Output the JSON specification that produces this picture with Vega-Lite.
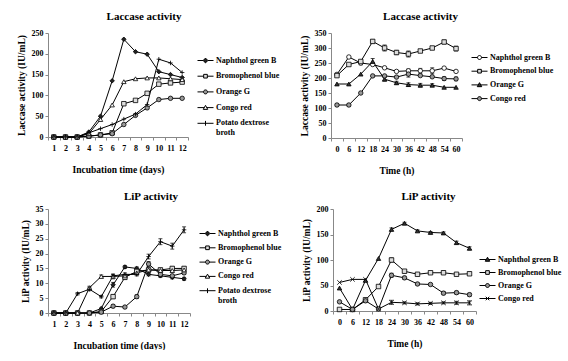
{
  "$schema": "https://vega.github.io/schema/vega-lite/v6.json",
  "background": "white",
  "padding": {"left": 16, "top": 11, "right": 0, "bottom": 0},
  "config": {
    "view": {"stroke": null},
    "font": "Liberation Serif",
    "axis": {"labelFont": "Liberation Serif", "labelFontSize": 8, "labelFontWeight": "bold", "labelColor": "black", "titleFont": "Liberation Serif", "titleFontSize": 9.5, "titleFontWeight": "bold", "titleColor": "black", "domainColor": "#888", "tickColor": "#888", "tickSize": 3, "grid": false, "labelPadding": 2, "titlePadding": 4},
    "axisX": {"labelAngle": 0, "tickBand": "extent", "labelPadding": 4, "titlePadding": 12},
    "axisY": {"titlePadding": 5},
    "title": {"font": "Liberation Serif", "fontSize": 11, "fontWeight": "bold", "color": "black", "anchor": "middle", "frame": "bounds", "offset": 7},
    "legend": {"labelFont": "Liberation Serif", "labelFontSize": 8, "labelFontWeight": "bold", "labelColor": "black", "symbolSize": 256, "symbolStrokeWidth": 1, "symbolStrokeColor": "black", "labelOffset": 2, "rowPadding": 2, "orient": "none"}
  },
  "spacing": 16,
  "vconcat": [
    {
      "spacing": 19,
      "hconcat": [
        {
          "width": 140, "height": 104,
          "title": {"text": "Laccase activity", "dx": -4},
          "data": {"values": [
            {"day":1,"series":"Naphthol green B","value":0},{"day":2,"series":"Naphthol green B","value":0},{"day":3,"series":"Naphthol green B","value":0},{"day":4,"series":"Naphthol green B","value":12},{"day":5,"series":"Naphthol green B","value":50},{"day":6,"series":"Naphthol green B","value":135},{"day":7,"series":"Naphthol green B","value":235},{"day":8,"series":"Naphthol green B","value":205},{"day":9,"series":"Naphthol green B","value":199},{"day":10,"series":"Naphthol green B","value":157},{"day":11,"series":"Naphthol green B","value":150},{"day":12,"series":"Naphthol green B","value":143},
            {"day":1,"series":"Bromophenol blue","value":0},{"day":2,"series":"Bromophenol blue","value":0},{"day":3,"series":"Bromophenol blue","value":0},{"day":4,"series":"Bromophenol blue","value":2},{"day":5,"series":"Bromophenol blue","value":5},{"day":6,"series":"Bromophenol blue","value":10},{"day":7,"series":"Bromophenol blue","value":80},{"day":8,"series":"Bromophenol blue","value":88},{"day":9,"series":"Bromophenol blue","value":105},{"day":10,"series":"Bromophenol blue","value":127},{"day":11,"series":"Bromophenol blue","value":130},{"day":12,"series":"Bromophenol blue","value":132},
            {"day":1,"series":"Orange G","value":0},{"day":2,"series":"Orange G","value":0},{"day":3,"series":"Orange G","value":0},{"day":4,"series":"Orange G","value":2},{"day":5,"series":"Orange G","value":5},{"day":6,"series":"Orange G","value":8},{"day":7,"series":"Orange G","value":30},{"day":8,"series":"Orange G","value":52},{"day":9,"series":"Orange G","value":70},{"day":10,"series":"Orange G","value":90},{"day":11,"series":"Orange G","value":93},{"day":12,"series":"Orange G","value":93},
            {"day":1,"series":"Congo red","value":0},{"day":2,"series":"Congo red","value":0},{"day":3,"series":"Congo red","value":0},{"day":4,"series":"Congo red","value":8},{"day":5,"series":"Congo red","value":42},{"day":6,"series":"Congo red","value":77},{"day":7,"series":"Congo red","value":133},{"day":8,"series":"Congo red","value":140},{"day":9,"series":"Congo red","value":142},{"day":10,"series":"Congo red","value":142},{"day":11,"series":"Congo red","value":140},{"day":12,"series":"Congo red","value":138},
            {"day":1,"series":"Potato dextrose broth","value":0},{"day":2,"series":"Potato dextrose broth","value":0},{"day":3,"series":"Potato dextrose broth","value":0},{"day":4,"series":"Potato dextrose broth","value":10},{"day":5,"series":"Potato dextrose broth","value":20},{"day":6,"series":"Potato dextrose broth","value":30},{"day":7,"series":"Potato dextrose broth","value":43},{"day":8,"series":"Potato dextrose broth","value":55},{"day":9,"series":"Potato dextrose broth","value":78},{"day":10,"series":"Potato dextrose broth","value":187},{"day":11,"series":"Potato dextrose broth","value":178},{"day":12,"series":"Potato dextrose broth","value":155}
          ]},
          "encoding": {
            "x": {"field": "day", "type": "ordinal", "bandPosition": 0.5, "scale": {"type": "band", "paddingInner": 0, "paddingOuter": 0}, "title": "Incubation time (days)"},
            "y": {"field": "value", "type": "quantitative", "scale": {"domain": [0, 250], "nice": false}, "axis": {"values": [0, 50, 100, 150, 200, 250]}, "title": "Laccase activity (IU/mL)"}
          },
          "layer": [
            {"mark": {"type": "line", "color": "black", "strokeWidth": 1}, "encoding": {"detail": {"field": "series"}}},
            {"mark": {"type": "point", "filled": false, "size": 20, "color": "black", "strokeWidth": 0.8, "opacity": 1},
             "encoding": {
               "shape": {"field": "series", "scale": {"domain": ["Naphthol green B","Bromophenol blue","Orange G","Congo red","Potato dextrose broth"], "range": ["diamond","square","circle","triangle-up","M-1,0H1M0,-1V1"]}, "legend": null},
               "fill": {"field": "series", "scale": {"domain": ["Naphthol green B","Bromophenol blue","Orange G","Congo red","Potato dextrose broth"], "range": ["#222","#ddd","#999","white","black"]}, "legend": null}
             }},
            {"data": {"values": []}, "mark": {"type": "point", "filled": false, "color": "black", "strokeWidth": 1, "opacity": 1},
             "encoding": {
               "x": null, "y": null,
               "shape": {"field": "series", "type": "nominal", "scale": {"domain": ["Naphthol green B","Bromophenol blue","Orange G","Congo red","Potato dextrose broth"], "range": ["M-1,0H-0.3M0.3,0H1M0,-0.3L0.3,0L0,0.3L-0.3,0Z","M-1,0H-0.23M0.23,0H1M-0.23,-0.23H0.23V0.23H-0.23Z","M-1,0H-0.25M0.25,0H1M0.25,0A0.25,0.25,0,1,1,-0.25,0A0.25,0.25,0,1,1,0.25,0Z","M-1,0H-0.15M0.15,0H1M0,-0.28L0.28,0.22L-0.28,0.22Z","M-1,0H1M0,-0.3V0.3"]},
                 "legend": {"title": null, "legendX": 149, "legendY": 19, "rowPadding": 2.7, "labelExpr": "datum.label == 'Potato dextrose broth' ? ['Potato dextrose', 'broth'] : datum.label"}},
               "fill": {"field": "series", "type": "nominal", "scale": {"domain": ["Naphthol green B","Bromophenol blue","Orange G","Congo red","Potato dextrose broth"], "range": ["#222","#ddd","#999","white","black"]},
                 "legend": {"title": null, "legendX": 149, "legendY": 19, "rowPadding": 2.7, "labelExpr": "datum.label == 'Potato dextrose broth' ? ['Potato dextrose', 'broth'] : datum.label"}},
               "stroke": {"field": "series", "type": "nominal", "scale": {"domain": ["Naphthol green B","Bromophenol blue","Orange G","Congo red","Potato dextrose broth"], "range": ["black","black","black","black","black"]},
                 "legend": {"title": null, "legendX": 149, "legendY": 19, "rowPadding": 2.7, "labelExpr": "datum.label == 'Potato dextrose broth' ? ['Potato dextrose', 'broth'] : datum.label"}}
             }}
          ],
          "resolve": {"scale": {"shape": "independent", "fill": "independent", "stroke": "independent"}}
        },
        {
          "width": 131, "height": 105,
          "title": {"text": "Laccase activity", "dx": -6},
          "data": {"values": [
            {"hour":0,"series":"Naphthol green B","value":212,"err":0},{"hour":6,"series":"Naphthol green B","value":270,"err":0},{"hour":12,"series":"Naphthol green B","value":250,"err":6},{"hour":18,"series":"Naphthol green B","value":245,"err":0},{"hour":24,"series":"Naphthol green B","value":234,"err":0},{"hour":30,"series":"Naphthol green B","value":222,"err":0},{"hour":36,"series":"Naphthol green B","value":224,"err":6},{"hour":42,"series":"Naphthol green B","value":224,"err":8},{"hour":48,"series":"Naphthol green B","value":224,"err":10},{"hour":54,"series":"Naphthol green B","value":233,"err":0},{"hour":60,"series":"Naphthol green B","value":222,"err":0},
            {"hour":0,"series":"Bromophenol blue","value":208,"err":0},{"hour":6,"series":"Bromophenol blue","value":245,"err":0},{"hour":12,"series":"Bromophenol blue","value":255,"err":0},{"hour":18,"series":"Bromophenol blue","value":322,"err":6},{"hour":24,"series":"Bromophenol blue","value":300,"err":10},{"hour":30,"series":"Bromophenol blue","value":285,"err":7},{"hour":36,"series":"Bromophenol blue","value":280,"err":10},{"hour":42,"series":"Bromophenol blue","value":290,"err":5},{"hour":48,"series":"Bromophenol blue","value":300,"err":0},{"hour":54,"series":"Bromophenol blue","value":320,"err":6},{"hour":60,"series":"Bromophenol blue","value":298,"err":8},
            {"hour":0,"series":"Orange G","value":180,"err":0},{"hour":6,"series":"Orange G","value":180,"err":0},{"hour":12,"series":"Orange G","value":213,"err":0},{"hour":18,"series":"Orange G","value":255,"err":10},{"hour":24,"series":"Orange G","value":196,"err":6},{"hour":30,"series":"Orange G","value":184,"err":5},{"hour":36,"series":"Orange G","value":178,"err":6},{"hour":42,"series":"Orange G","value":176,"err":6},{"hour":48,"series":"Orange G","value":176,"err":5},{"hour":54,"series":"Orange G","value":169,"err":0},{"hour":60,"series":"Orange G","value":169,"err":0},
            {"hour":0,"series":"Congo red","value":110,"err":5},{"hour":6,"series":"Congo red","value":110,"err":5},{"hour":12,"series":"Congo red","value":150,"err":0},{"hour":18,"series":"Congo red","value":207,"err":0},{"hour":24,"series":"Congo red","value":207,"err":0},{"hour":30,"series":"Congo red","value":203,"err":0},{"hour":36,"series":"Congo red","value":213,"err":10},{"hour":42,"series":"Congo red","value":208,"err":0},{"hour":48,"series":"Congo red","value":204,"err":0},{"hour":54,"series":"Congo red","value":198,"err":6},{"hour":60,"series":"Congo red","value":197,"err":6}
          ]},
          "encoding": {
            "x": {"field": "hour", "type": "ordinal", "bandPosition": 0.5, "scale": {"type": "band", "paddingInner": 0, "paddingOuter": 0}, "title": "Time (h)"},
            "y": {"field": "value", "type": "quantitative", "scale": {"domain": [0, 350], "nice": false}, "axis": {"values": [0, 50, 100, 150, 200, 250, 300, 350]}, "title": "Laccase activity (IU/mL)"}
          },
          "layer": [
            {"transform": [{"filter": "datum.err > 0"}], "mark": {"type": "errorbar", "color": "black", "ticks": {"size": 4, "color": "black"}, "rule": {"strokeWidth": 0.8}}, "encoding": {"yError": {"field": "err"}}},
            {"mark": {"type": "line", "color": "black", "strokeWidth": 1}, "encoding": {"detail": {"field": "series"}}},
            {"mark": {"type": "point", "filled": false, "size": 20, "color": "black", "strokeWidth": 0.8, "opacity": 1},
             "encoding": {
               "shape": {"field": "series", "scale": {"domain": ["Naphthol green B","Bromophenol blue","Orange G","Congo red"], "range": ["circle","square","triangle-up","circle"]}, "legend": null},
               "fill": {"field": "series", "scale": {"domain": ["Naphthol green B","Bromophenol blue","Orange G","Congo red"], "range": ["white","#ddd","#333","#999"]}, "legend": null}
             }},
            {"data": {"values": []}, "mark": {"type": "point", "filled": false, "color": "black", "strokeWidth": 1, "opacity": 1},
             "encoding": {
               "x": null, "y": null,
               "shape": {"field": "series", "type": "nominal", "scale": {"domain": ["Naphthol green B","Bromophenol blue","Orange G","Congo red"], "range": ["M-1,0H-0.25M0.25,0H1M0.25,0A0.25,0.25,0,1,1,-0.25,0A0.25,0.25,0,1,1,0.25,0Z","M-1,0H-0.23M0.23,0H1M-0.23,-0.23H0.23V0.23H-0.23Z","M-1,0H-0.15M0.15,0H1M0,-0.28L0.28,0.22L-0.28,0.22Z","M-1,0H-0.25M0.25,0H1M0.25,0A0.25,0.25,0,1,1,-0.25,0A0.25,0.25,0,1,1,0.25,0Z"]},
                 "legend": {"title": null, "legendX": 140, "legendY": 16, "rowPadding": 0.7}},
               "fill": {"field": "series", "type": "nominal", "scale": {"domain": ["Naphthol green B","Bromophenol blue","Orange G","Congo red"], "range": ["white","#ddd","#333","#999"]},
                 "legend": {"title": null, "legendX": 140, "legendY": 16, "rowPadding": 0.7}},
               "stroke": {"field": "series", "type": "nominal", "scale": {"domain": ["Naphthol green B","Bromophenol blue","Orange G","Congo red"], "range": ["black","black","black","black"]},
                 "legend": {"title": null, "legendX": 140, "legendY": 16, "rowPadding": 0.7}}
             }}
          ],
          "resolve": {"scale": {"shape": "independent", "fill": "independent", "stroke": "independent"}}
        }
      ]
    },
    {
      "spacing": 19,
      "hconcat": [
        {
          "width": 142, "height": 104,
          "title": {"text": "LiP activity", "offset": 3, "dx": 0},
          "data": {"values": [
            {"day":1,"series":"Naphthol green B","value":0,"err":0},{"day":2,"series":"Naphthol green B","value":0,"err":0},{"day":3,"series":"Naphthol green B","value":0,"err":0},{"day":4,"series":"Naphthol green B","value":0,"err":0},{"day":5,"series":"Naphthol green B","value":1.5,"err":0},{"day":6,"series":"Naphthol green B","value":9.5,"err":0.8},{"day":7,"series":"Naphthol green B","value":15.5,"err":0.5},{"day":8,"series":"Naphthol green B","value":15,"err":0.5},{"day":9,"series":"Naphthol green B","value":13,"err":0.5},{"day":10,"series":"Naphthol green B","value":12.5,"err":0.5},{"day":11,"series":"Naphthol green B","value":12,"err":0.5},{"day":12,"series":"Naphthol green B","value":11.5,"err":0.5},
            {"day":1,"series":"Bromophenol blue","value":0,"err":0},{"day":2,"series":"Bromophenol blue","value":0,"err":0},{"day":3,"series":"Bromophenol blue","value":0,"err":0},{"day":4,"series":"Bromophenol blue","value":0,"err":0},{"day":5,"series":"Bromophenol blue","value":0.5,"err":0},{"day":6,"series":"Bromophenol blue","value":5.5,"err":0.6},{"day":7,"series":"Bromophenol blue","value":12,"err":0.6},{"day":8,"series":"Bromophenol blue","value":14,"err":0.6},{"day":9,"series":"Bromophenol blue","value":14.5,"err":0.6},{"day":10,"series":"Bromophenol blue","value":14.5,"err":0.6},{"day":11,"series":"Bromophenol blue","value":15,"err":0.6},{"day":12,"series":"Bromophenol blue","value":15,"err":0.6},
            {"day":1,"series":"Orange G","value":0,"err":0},{"day":2,"series":"Orange G","value":0,"err":0},{"day":3,"series":"Orange G","value":0,"err":0},{"day":4,"series":"Orange G","value":0,"err":0},{"day":5,"series":"Orange G","value":0.3,"err":0},{"day":6,"series":"Orange G","value":2.3,"err":0.5},{"day":7,"series":"Orange G","value":2,"err":0.4},{"day":8,"series":"Orange G","value":5.5,"err":0.6},{"day":9,"series":"Orange G","value":16.5,"err":0.8},{"day":10,"series":"Orange G","value":13,"err":0.5},{"day":11,"series":"Orange G","value":12.5,"err":0.5},{"day":12,"series":"Orange G","value":13.5,"err":0.5},
            {"day":1,"series":"Congo red","value":0,"err":0},{"day":2,"series":"Congo red","value":0,"err":0},{"day":3,"series":"Congo red","value":0,"err":0},{"day":4,"series":"Congo red","value":8.5,"err":0.5},{"day":5,"series":"Congo red","value":12.3,"err":0.5},{"day":6,"series":"Congo red","value":12.3,"err":0.8},{"day":7,"series":"Congo red","value":12.5,"err":0.5},{"day":8,"series":"Congo red","value":13.5,"err":0.5},{"day":9,"series":"Congo red","value":14.5,"err":0.5},{"day":10,"series":"Congo red","value":14.3,"err":0.5},{"day":11,"series":"Congo red","value":14.3,"err":0.5},{"day":12,"series":"Congo red","value":14.5,"err":0.5},
            {"day":1,"series":"Potato dextrose broth","value":0,"err":0},{"day":2,"series":"Potato dextrose broth","value":0,"err":0},{"day":3,"series":"Potato dextrose broth","value":6.5,"err":0.4},{"day":4,"series":"Potato dextrose broth","value":8,"err":0.5},{"day":5,"series":"Potato dextrose broth","value":5.5,"err":0.4},{"day":6,"series":"Potato dextrose broth","value":12.5,"err":0.5},{"day":7,"series":"Potato dextrose broth","value":13,"err":0.5},{"day":8,"series":"Potato dextrose broth","value":13,"err":0.5},{"day":9,"series":"Potato dextrose broth","value":19,"err":0.8},{"day":10,"series":"Potato dextrose broth","value":24,"err":1},{"day":11,"series":"Potato dextrose broth","value":22.5,"err":1},{"day":12,"series":"Potato dextrose broth","value":28,"err":1}
          ]},
          "encoding": {
            "x": {"field": "day", "type": "ordinal", "bandPosition": 0.5, "scale": {"type": "band", "paddingInner": 0, "paddingOuter": 0}, "title": "Incubation time (days)"},
            "y": {"field": "value", "type": "quantitative", "scale": {"domain": [0, 35], "nice": false}, "axis": {"values": [0, 5, 10, 15, 20, 25, 30, 35]}, "title": "LiP activity (IU/mL)"}
          },
          "layer": [
            {"transform": [{"filter": "datum.err > 0"}], "mark": {"type": "errorbar", "color": "black", "ticks": {"size": 4, "color": "black"}, "rule": {"strokeWidth": 0.8}}, "encoding": {"yError": {"field": "err"}}},
            {"mark": {"type": "line", "color": "black", "strokeWidth": 1}, "encoding": {"detail": {"field": "series"}}},
            {"mark": {"type": "point", "filled": false, "size": 20, "color": "black", "strokeWidth": 0.8, "opacity": 1},
             "encoding": {
               "shape": {"field": "series", "scale": {"domain": ["Naphthol green B","Bromophenol blue","Orange G","Congo red","Potato dextrose broth"], "range": ["diamond","square","circle","triangle-up","M-1,0H1M0,-1V1"]}, "legend": null},
               "fill": {"field": "series", "scale": {"domain": ["Naphthol green B","Bromophenol blue","Orange G","Congo red","Potato dextrose broth"], "range": ["#222","#ddd","#999","white","black"]}, "legend": null}
             }},
            {"data": {"values": []}, "mark": {"type": "point", "filled": false, "color": "black", "strokeWidth": 1, "opacity": 1},
             "encoding": {
               "x": null, "y": null,
               "shape": {"field": "series", "type": "nominal", "scale": {"domain": ["Naphthol green B","Bromophenol blue","Orange G","Congo red","Potato dextrose broth"], "range": ["M-1,0H-0.3M0.3,0H1M0,-0.3L0.3,0L0,0.3L-0.3,0Z","M-1,0H-0.23M0.23,0H1M-0.23,-0.23H0.23V0.23H-0.23Z","M-1,0H-0.25M0.25,0H1M0.25,0A0.25,0.25,0,1,1,-0.25,0A0.25,0.25,0,1,1,0.25,0Z","M-1,0H-0.15M0.15,0H1M0,-0.28L0.28,0.22L-0.28,0.22Z","M-1,0H1M0,-0.3V0.3"]},
                 "legend": {"title": null, "legendX": 151, "legendY": 16, "rowPadding": 1.3, "labelExpr": "datum.label == 'Potato dextrose broth' ? ['Potato dextrose', 'broth'] : datum.label"}},
               "fill": {"field": "series", "type": "nominal", "scale": {"domain": ["Naphthol green B","Bromophenol blue","Orange G","Congo red","Potato dextrose broth"], "range": ["#222","#ddd","#999","white","black"]},
                 "legend": {"title": null, "legendX": 151, "legendY": 16, "rowPadding": 1.3, "labelExpr": "datum.label == 'Potato dextrose broth' ? ['Potato dextrose', 'broth'] : datum.label"}},
               "stroke": {"field": "series", "type": "nominal", "scale": {"domain": ["Naphthol green B","Bromophenol blue","Orange G","Congo red","Potato dextrose broth"], "range": ["black","black","black","black","black"]},
                 "legend": {"title": null, "legendX": 151, "legendY": 16, "rowPadding": 1.3, "labelExpr": "datum.label == 'Potato dextrose broth' ? ['Potato dextrose', 'broth'] : datum.label"}}
             }}
          ],
          "resolve": {"scale": {"shape": "independent", "fill": "independent", "stroke": "independent"}}
        },
        {
          "width": 143, "height": 102,
          "title": {"text": "LiP activity", "offset": 3, "dx": -3},
          "data": {"values": [
            {"hour":0,"series":"Naphthol green B","value":45,"err":0},{"hour":6,"series":"Naphthol green B","value":3,"err":0},{"hour":12,"series":"Naphthol green B","value":60,"err":0},{"hour":18,"series":"Naphthol green B","value":103,"err":0},{"hour":24,"series":"Naphthol green B","value":160,"err":3},{"hour":30,"series":"Naphthol green B","value":172,"err":2},{"hour":36,"series":"Naphthol green B","value":157,"err":2},{"hour":42,"series":"Naphthol green B","value":154,"err":2},{"hour":48,"series":"Naphthol green B","value":153,"err":2},{"hour":54,"series":"Naphthol green B","value":134,"err":3},{"hour":60,"series":"Naphthol green B","value":123,"err":3},
            {"hour":0,"series":"Bromophenol blue","value":3,"err":0},{"hour":6,"series":"Bromophenol blue","value":3,"err":0},{"hour":12,"series":"Bromophenol blue","value":22,"err":0},{"hour":18,"series":"Bromophenol blue","value":48,"err":0},{"hour":24,"series":"Bromophenol blue","value":100,"err":4},{"hour":30,"series":"Bromophenol blue","value":78,"err":3},{"hour":36,"series":"Bromophenol blue","value":72,"err":2},{"hour":42,"series":"Bromophenol blue","value":75,"err":2},{"hour":48,"series":"Bromophenol blue","value":75,"err":3},{"hour":54,"series":"Bromophenol blue","value":72,"err":2},{"hour":60,"series":"Bromophenol blue","value":73,"err":3},
            {"hour":0,"series":"Orange G","value":18,"err":0},{"hour":6,"series":"Orange G","value":3,"err":0},{"hour":12,"series":"Orange G","value":20,"err":0},{"hour":18,"series":"Orange G","value":4,"err":0},{"hour":24,"series":"Orange G","value":70,"err":4},{"hour":30,"series":"Orange G","value":65,"err":3},{"hour":36,"series":"Orange G","value":53,"err":2},{"hour":42,"series":"Orange G","value":52,"err":2},{"hour":48,"series":"Orange G","value":35,"err":3},{"hour":54,"series":"Orange G","value":36,"err":3},{"hour":60,"series":"Orange G","value":32,"err":3},
            {"hour":0,"series":"Congo red","value":56,"err":0},{"hour":6,"series":"Congo red","value":62,"err":0},{"hour":12,"series":"Congo red","value":62,"err":0},{"hour":18,"series":"Congo red","value":4,"err":0},{"hour":24,"series":"Congo red","value":17,"err":4},{"hour":30,"series":"Congo red","value":16,"err":2},{"hour":36,"series":"Congo red","value":14,"err":2},{"hour":42,"series":"Congo red","value":15,"err":2},{"hour":48,"series":"Congo red","value":16,"err":2},{"hour":54,"series":"Congo red","value":16,"err":3},{"hour":60,"series":"Congo red","value":16,"err":4}
          ]},
          "encoding": {
            "x": {"field": "hour", "type": "ordinal", "bandPosition": 0.5, "scale": {"type": "band", "paddingInner": 0, "paddingOuter": 0}, "title": "Time (h)"},
            "y": {"field": "value", "type": "quantitative", "scale": {"domain": [0, 200], "nice": false}, "axis": {"values": [0, 50, 100, 150, 200]}, "title": "LiP activity (IU/mL)"}
          },
          "layer": [
            {"transform": [{"filter": "datum.err > 0"}], "mark": {"type": "errorbar", "color": "black", "ticks": {"size": 4, "color": "black"}, "rule": {"strokeWidth": 0.8}}, "encoding": {"yError": {"field": "err"}}},
            {"mark": {"type": "line", "color": "black", "strokeWidth": 1}, "encoding": {"detail": {"field": "series"}}},
            {"mark": {"type": "point", "filled": false, "size": 20, "color": "black", "strokeWidth": 0.8, "opacity": 1},
             "encoding": {
               "shape": {"field": "series", "scale": {"domain": ["Naphthol green B","Bromophenol blue","Orange G","Congo red"], "range": ["triangle-up","square","circle","M-1,-1L1,1M-1,1L1,-1"]}, "legend": null},
               "fill": {"field": "series", "scale": {"domain": ["Naphthol green B","Bromophenol blue","Orange G","Congo red"], "range": ["#333","#ddd","#999","black"]}, "legend": null}
             }},
            {"data": {"values": []}, "mark": {"type": "point", "filled": false, "color": "black", "strokeWidth": 1, "opacity": 1},
             "encoding": {
               "x": null, "y": null,
               "shape": {"field": "series", "type": "nominal", "scale": {"domain": ["Naphthol green B","Bromophenol blue","Orange G","Congo red"], "range": ["M-1,0H-0.15M0.15,0H1M0,-0.28L0.28,0.22L-0.28,0.22Z","M-1,0H-0.23M0.23,0H1M-0.23,-0.23H0.23V0.23H-0.23Z","M-1,0H-0.25M0.25,0H1M0.25,0A0.25,0.25,0,1,1,-0.25,0A0.25,0.25,0,1,1,0.25,0Z","M-1,0H1M-0.22,-0.22L0.22,0.22M-0.22,0.22L0.22,-0.22"]},
                 "legend": {"title": null, "legendX": 146, "legendY": 42, "rowPadding": 0}},
               "fill": {"field": "series", "type": "nominal", "scale": {"domain": ["Naphthol green B","Bromophenol blue","Orange G","Congo red"], "range": ["#333","#ddd","#999","black"]},
                 "legend": {"title": null, "legendX": 146, "legendY": 42, "rowPadding": 0}},
               "stroke": {"field": "series", "type": "nominal", "scale": {"domain": ["Naphthol green B","Bromophenol blue","Orange G","Congo red"], "range": ["black","black","black","black"]},
                 "legend": {"title": null, "legendX": 146, "legendY": 42, "rowPadding": 0}}
             }}
          ],
          "resolve": {"scale": {"shape": "independent", "fill": "independent", "stroke": "independent"}}
        }
      ]
    }
  ]
}
